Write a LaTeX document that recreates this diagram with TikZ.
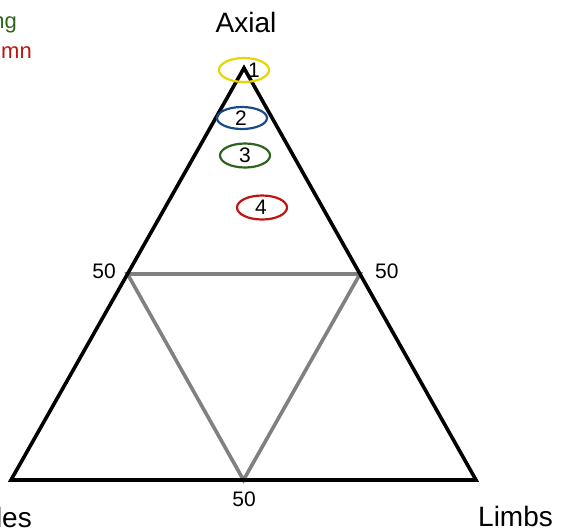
\documentclass[tikz,border=0pt]{standalone}
\usepackage{fontspec}
\setmainfont{Liberation Sans}
\usetikzlibrary{shapes.geometric}
\definecolor{cyel}{RGB}{232,212,0}
\definecolor{cblu}{RGB}{25,75,135}
\definecolor{cgrn}{RGB}{45,100,30}
\definecolor{cred}{RGB}{190,20,20}
\definecolor{cgray}{RGB}{128,128,128}
\begin{document}
\begin{tikzpicture}[x=1pt,y=-1pt,
  outer/.style={line width=3.6pt,black,line join=miter},
  inner/.style={line width=3.6pt,cgray,line join=miter},
  ring/.style={ellipse,line width=2.2pt,minimum width=50pt,minimum height=24pt,inner sep=0pt},
  big/.style={font=\fontsize{28}{28}\selectfont,inner sep=0pt},
  mid/.style={font=\fontsize{21}{21}\selectfont,inner sep=0pt},
  num/.style={font=\fontsize{21}{21}\selectfont,inner sep=0pt},
  leg/.style={font=\fontsize{22}{22}\selectfont,inner sep=0pt}]
\useasboundingbox (0,0) rectangle (561,531);
\coordinate (A) at (244,68);
\coordinate (L) at (11,480);
\coordinate (R) at (476,480);
\coordinate (ML) at (127.5,274);
\coordinate (MR) at (360,274);
\coordinate (MB) at (243.5,480);
\draw[inner] (ML) -- (MR) -- (MB) -- cycle;
\draw[outer] (A) -- (L) -- (R) -- cycle;
\node[ring,draw=cyel] (e1) at (244,70) {};
\node[ring,draw=cblu,minimum height=22pt] (e2) at (242,118) {};
\node[ring,draw=cgrn] (e3) at (245,155.5) {};
\node[ring,draw=cred] (e4) at (262,207.5) {};
\node[num] (n1) at (254,70) {1};
\node[num] (n2) at (241,118) {2};
\node[num] (n3) at (245,155.5) {3};
\node[num] (n4) at (261,207.5) {4};
\node[big,anchor=base] (ax) at (246,32) {Axial};
\node[big,anchor=base west] (li) at (478,526) {Limbs};
\node[big,anchor=base east] (le) at (32,527) {les};
\node[leg,anchor=base east,text=cgrn] (g1) at (17,28) {ng};
\node[leg,anchor=base east,text=cred] (g2) at (32,58) {mn};
\node[mid,anchor=base east] (l50) at (116,278) {50};
\node[mid,anchor=base west] (r50) at (375,278) {50};
\node[mid,anchor=base] (b50) at (244,506) {50};
\end{tikzpicture}
\end{document}
